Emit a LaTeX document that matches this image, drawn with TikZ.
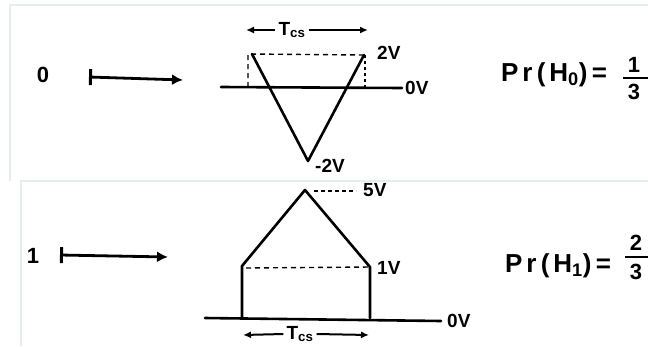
\documentclass[tikz,border=0pt]{standalone}
\usepackage{fontspec}
\setmainfont{Liberation Sans}
\usetikzlibrary{arrows.meta}
\begin{document}
\begin{tikzpicture}[x=1pt,y=-1pt,
  wave/.style={line width=2.6pt, line join=round, line cap=round},
  dashline/.style={line width=1.4pt, dash pattern=on 5pt off 4pt},
  lbl/.style={font=\fontsize{19}{19}\selectfont\bfseries, inner sep=0pt},
  bitlbl/.style={font=\fontsize{22}{22}\selectfont\bfseries, inner sep=0pt},
  prlbl/.style={font=\fontsize{26}{26}\selectfont\bfseries\addfontfeature{LetterSpace=15}, inner sep=0pt},
  fraclbl/.style={font=\fontsize{22}{22}\selectfont\bfseries, inner sep=0pt},
  fracbar/.style={line width=2.2pt},
  maparrow/.style={line width=2.8pt, {Bar[width=16pt,line width=3pt]}-{Latex[length=11pt,width=11pt]}},
  spanarrow/.style={line width=2pt, -{Latex[length=8pt,width=7pt]}},
  panel/.style={draw={rgb,255:red,230;green,237;blue,235}, line width=1.5pt}]
\useasboundingbox (0,0) rectangle (648,346);
% faint panel frames
\draw[panel] (648,5) -- (10,5) -- (10,181);
\draw[panel] (648,181) -- (21,181) -- (21,346);

% ---------- top panel: bit 0 ----------
\node[bitlbl] (bit0) at (43,75) {0};
\coordinate (a0s) at (89,77);
\coordinate (a0e) at (183,80);
\draw[maparrow] (a0s) -- (a0e);

\node[lbl, anchor=west] (zero0) at (405,88) {0V};
\coordinate (ax0l) at (221,87);
\draw[wave] (ax0l) -- ([xshift=-3pt]zero0.west);

\coordinate (vL) at (252,54);
\coordinate (vB) at (308,161);
\coordinate (vR) at (364,55);
\draw[wave] (vL) -- (vB) -- (vR);

\coordinate (dL0) at (248,87);
\coordinate (dLt) at (248,54);
\coordinate (dR0) at (365,87);
\coordinate (dRt) at (365,55);
\draw[dashline] (dL0) -- (dLt) -- (dRt);
\draw[dashline, line width=1.1pt, dash pattern=on 3pt off 3pt] (dRt) -- (dR0);

\node[lbl, anchor=west] (plus2) at (377,53) {2V};
\node[lbl, anchor=west] (minus2) at (315,166) {-2V};

\node[lbl] (tcs0) at (292,30) {T\textsubscript{cs}};
\coordinate (t0l) at (246,30);
\coordinate (t0r) at (368,30);
\draw[spanarrow] ([xshift=-3pt]tcs0.west) -- (t0l);
\draw[spanarrow] ([xshift=3pt]tcs0.east) -- (t0r);

\node[prlbl, anchor=west] (pr0) at (501,75) {Pr\,(H\textsubscript{0})\,=};
\node[fraclbl] (num0) at (634,65) {1};
\node[fraclbl] (den0) at (634,92) {3};
\coordinate (fb0l) at (623,78);
\coordinate (fb0r) at (648,78);
\draw[fracbar] (fb0l) -- (fb0r);

% ---------- bottom panel: bit 1 ----------
\node[bitlbl] (bit1) at (33,256) {1};
\coordinate (a1s) at (60,255);
\coordinate (a1e) at (168,257);
\draw[maparrow] (a1s) -- (a1e);

\node[lbl, anchor=west] (zero1) at (447,321) {0V};
\coordinate (ax1l) at (205,318);
\draw[wave] (ax1l) -- ([xshift=-6pt]zero1.west);

\coordinate (pBL) at (242,318);
\coordinate (pML) at (242,266);
\coordinate (pTop) at (305,190);
\coordinate (pMR) at (370,267);
\coordinate (pBR) at (370,318);
\draw[wave] (pBL) -- (pML) -- (pTop) -- (pMR) -- (pBR);

\node[lbl, anchor=west] (five) at (363,190) {5V};
\node[lbl, anchor=west] (one) at (377,268) {1V};
\coordinate (dm1) at (246,268);
\coordinate (d5s) at (314,191);
\coordinate (d5e) at (356,191);
\draw[dashline] (dm1) -- (pMR);
\draw[dashline, line width=1.1pt, dash pattern=on 4pt off 3pt] (d5s) -- (d5e);

\node[lbl] (tcs1) at (300,334) {T\textsubscript{cs}};
\coordinate (t1l) at (243,335);
\coordinate (t1r) at (369,335);
\draw[spanarrow] ([xshift=-3pt]tcs1.west) -- (t1l);
\draw[spanarrow] ([xshift=3pt]tcs1.east) -- (t1r);

\node[prlbl, anchor=west] (pr1) at (505,266) {Pr\,(H\textsubscript{1})\,=};
\node[fraclbl] (num1) at (636,243) {2};
\node[fraclbl] (den1) at (636,272) {3};
\coordinate (fb1l) at (625,257);
\coordinate (fb1r) at (648,257);
\draw[fracbar] (fb1l) -- (fb1r);
\end{tikzpicture}
\end{document}
